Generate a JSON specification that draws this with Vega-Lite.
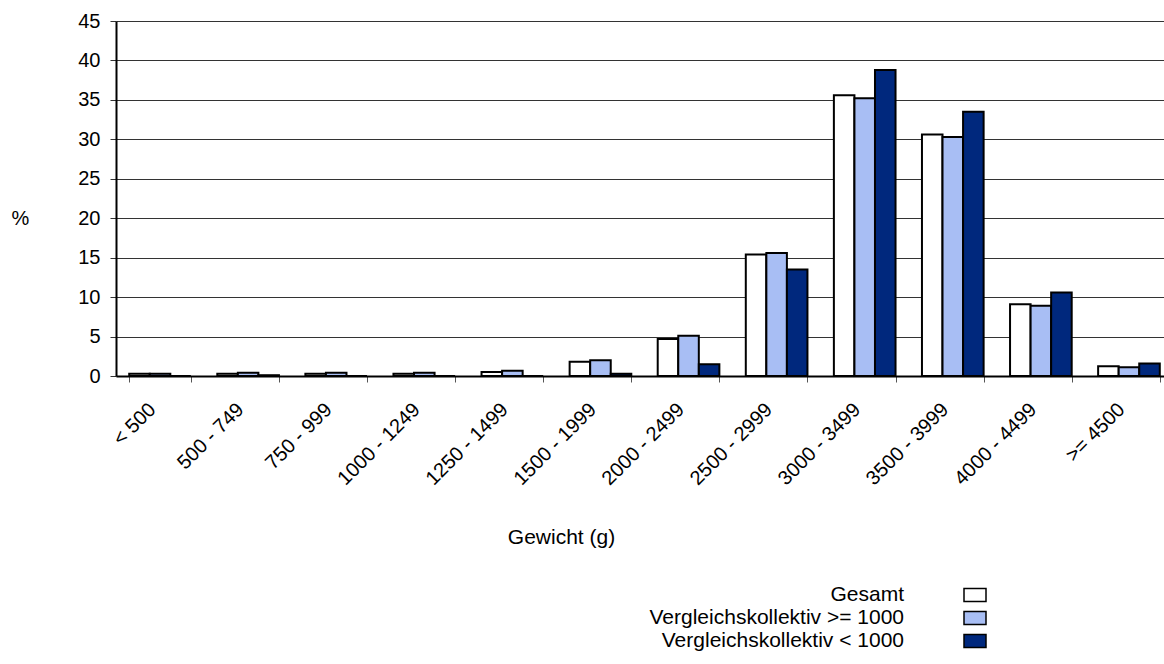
{
  "$schema": "https://vega.github.io/schema/vega-lite/v6.json",
  "width": 1048,
  "height": 355,
  "autosize": {"type": "none"},
  "padding": {"left": 116, "top": 21, "right": 0, "bottom": 288},
  "background": "white",
  "config": {
    "view": {"stroke": null},
    "font": "Liberation Sans",
    "axis": {"labelFont": "Liberation Sans", "titleFont": "Liberation Sans", "labelColor": "black", "titleColor": "black", "titleFontWeight": "normal"},
    "legend": {"labelFont": "Liberation Sans"}
  },
  "data": {
    "values": [
      {"cat": "< 500", "series": "Gesamt", "value": 0.3},
      {"cat": "< 500", "series": "Vergleichskollektiv >= 1000", "value": 0.3},
      {"cat": "< 500", "series": "Vergleichskollektiv < 1000", "value": 0},
      {"cat": "500 - 749", "series": "Gesamt", "value": 0.3},
      {"cat": "500 - 749", "series": "Vergleichskollektiv >= 1000", "value": 0.4},
      {"cat": "500 - 749", "series": "Vergleichskollektiv < 1000", "value": 0.1},
      {"cat": "750 - 999", "series": "Gesamt", "value": 0.3},
      {"cat": "750 - 999", "series": "Vergleichskollektiv >= 1000", "value": 0.4},
      {"cat": "750 - 999", "series": "Vergleichskollektiv < 1000", "value": 0},
      {"cat": "1000 - 1249", "series": "Gesamt", "value": 0.3},
      {"cat": "1000 - 1249", "series": "Vergleichskollektiv >= 1000", "value": 0.4},
      {"cat": "1000 - 1249", "series": "Vergleichskollektiv < 1000", "value": 0},
      {"cat": "1250 - 1499", "series": "Gesamt", "value": 0.5},
      {"cat": "1250 - 1499", "series": "Vergleichskollektiv >= 1000", "value": 0.65},
      {"cat": "1250 - 1499", "series": "Vergleichskollektiv < 1000", "value": 0},
      {"cat": "1500 - 1999", "series": "Gesamt", "value": 1.8},
      {"cat": "1500 - 1999", "series": "Vergleichskollektiv >= 1000", "value": 2.0},
      {"cat": "1500 - 1999", "series": "Vergleichskollektiv < 1000", "value": 0.3},
      {"cat": "2000 - 2499", "series": "Gesamt", "value": 4.7},
      {"cat": "2000 - 2499", "series": "Vergleichskollektiv >= 1000", "value": 5.1},
      {"cat": "2000 - 2499", "series": "Vergleichskollektiv < 1000", "value": 1.5},
      {"cat": "2500 - 2999", "series": "Gesamt", "value": 15.4},
      {"cat": "2500 - 2999", "series": "Vergleichskollektiv >= 1000", "value": 15.6},
      {"cat": "2500 - 2999", "series": "Vergleichskollektiv < 1000", "value": 13.5},
      {"cat": "3000 - 3499", "series": "Gesamt", "value": 35.6},
      {"cat": "3000 - 3499", "series": "Vergleichskollektiv >= 1000", "value": 35.2},
      {"cat": "3000 - 3499", "series": "Vergleichskollektiv < 1000", "value": 38.8},
      {"cat": "3500 - 3999", "series": "Gesamt", "value": 30.6},
      {"cat": "3500 - 3999", "series": "Vergleichskollektiv >= 1000", "value": 30.3},
      {"cat": "3500 - 3999", "series": "Vergleichskollektiv < 1000", "value": 33.5},
      {"cat": "4000 - 4499", "series": "Gesamt", "value": 9.1},
      {"cat": "4000 - 4499", "series": "Vergleichskollektiv >= 1000", "value": 8.9},
      {"cat": "4000 - 4499", "series": "Vergleichskollektiv < 1000", "value": 10.6},
      {"cat": ">= 4500", "series": "Gesamt", "value": 1.25},
      {"cat": ">= 4500", "series": "Vergleichskollektiv >= 1000", "value": 1.1},
      {"cat": ">= 4500", "series": "Vergleichskollektiv < 1000", "value": 1.6}
    ]
  },
  "mark": {"type": "bar", "stroke": "black", "strokeWidth": 2},
  "encoding": {
    "x": {
      "field": "cat",
      "type": "nominal",
      "sort": ["< 500", "500 - 749", "750 - 999", "1000 - 1249", "1250 - 1499", "1500 - 1999", "2000 - 2499", "2500 - 2999", "3000 - 3499", "3500 - 3999", "4000 - 4499", ">= 4500"],
      "scale": {"paddingInner": 0.3, "paddingOuter": 0.15, "range": [0, 1057]},
      "axis": {
        "title": "Gewicht (g)",
        "titleFontSize": 21,
        "titleX": 445,
        "titleY": 161,
        "titleAlign": "center",
        "titleBaseline": "middle",
        "labelAngle": -45,
        "labelAlign": "right",
        "labelBaseline": "top",
        "labelFontSize": 20,
        "labelPadding": 17,
        "labelOffset": -15,
        "labelOverlap": false,
        "tickBand": "extent",
        "ticks": true,
        "tickSize": 6,
        "tickColor": "#555555",
        "domainColor": "black",
        "domainWidth": 2,
        "grid": false
      }
    },
    "xOffset": {
      "field": "series",
      "sort": ["Gesamt", "Vergleichskollektiv >= 1000", "Vergleichskollektiv < 1000"]
    },
    "y": {
      "field": "value",
      "type": "quantitative",
      "scale": {"domain": [0, 45], "nice": false},
      "axis": {
        "values": [0, 5, 10, 15, 20, 25, 30, 35, 40, 45],
        "title": "%",
        "titleAngle": 0,
        "titleX": -96,
        "titleY": 197,
        "titleAlign": "center",
        "titleBaseline": "middle",
        "titleFontSize": 20,
        "labelFontSize": 20,
        "labelPadding": 10,
        "tickSize": 6,
        "tickColor": "#333333",
        "domainColor": "black",
        "domainWidth": 2,
        "grid": true,
        "gridColor": "#333333",
        "gridWidth": 1
      }
    },
    "color": {
      "field": "series",
      "type": "nominal",
      "scale": {
        "domain": ["Gesamt", "Vergleichskollektiv >= 1000", "Vergleichskollektiv < 1000"],
        "range": ["#FFFFFF", "#A8BEF4", "#00287D"]
      },
      "legend": {
        "title": null,
        "orient": "none",
        "legendX": 847,
        "legendY": 562,
        "symbolType": "M-1,-0.6H1V0.6H-1Z",
        "symbolSize": 484,
        "symbolStrokeColor": "black",
        "symbolStrokeWidth": 1.5,
        "symbolOpacity": 1,
        "labelAlign": "right",
        "labelOffset": -83,
        "labelFontSize": 21,
        "labelColor": "black",
        "labelLimit": 400,
        "rowPadding": 1
      }
    }
  }
}
